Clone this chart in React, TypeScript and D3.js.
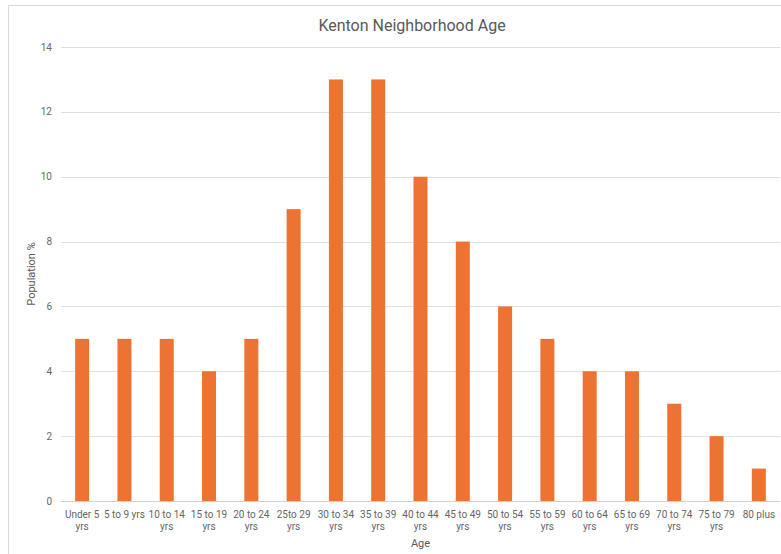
import React from "react";
import * as d3 from "d3";

const categories = [
  "Under 5 yrs", "5 to 9 yrs", "10 to 14 yrs", "15 to 19 yrs", "20 to 24 yrs",
  "25to 29 yrs", "30 to 34 yrs", "35 to 39 yrs", "40 to 44 yrs", "45 to 49 yrs",
  "50 to 54 yrs", "55 to 59 yrs", "60 to 64 yrs", "65 to 69 yrs", "70 to 74 yrs",
  "75 to 79 yrs", "80 plus",
];
const values = [5, 5, 5, 4, 5, 9, 13, 13, 10, 8, 6, 5, 4, 4, 3, 2, 1];
const yTicks = [0, 2, 4, 6, 8, 10, 12, 14];
const title = "Kenton Neighborhood Age";
const xTitle = "Age";
const yTitle = "Population %";

const W = 781;
const H = 554;
const M = { left: 61, right: 1, top: 47, bottom: 53 };
const FONT = "Roboto, 'Noto Sans', sans-serif";

function splitLabel(s: string): string[] {
  if (s.length <= 10) return [s];
  const i = s.lastIndexOf(" ");
  return [s.slice(0, i), s.slice(i + 1)];
}

export default function App() {
  const x = d3
    .scaleBand<string>()
    .domain(categories)
    .range([M.left, W - M.right])
    .paddingInner(0.67)
    .paddingOuter(0.335);
  const y = d3.scaleLinear().domain([0, 14]).range([H - M.bottom, M.top]);
  const x0 = M.left;
  const x1 = W - M.right;
  const bw = 14;

  return (
    <svg
      width={W}
      height={H}
      style={{ position: "absolute", left: 0, top: 0, display: "block", background: "#fff" }}
      fontFamily={FONT}
    >
      <rect x={8.5} y={5.5} width={W} height={H} fill="#fff" stroke="#d9d9d9" strokeWidth={1} />
      <text x={412} y={31} textAnchor="middle" fontSize={16} fill="#595959">
        {title}
      </text>
      {yTicks.map((t) => (
        <g key={t}>
          <line
            x1={x0}
            x2={x1}
            y1={Math.round(y(t)) + 0.5}
            y2={Math.round(y(t)) + 0.5}
            stroke={t === 0 ? "#d0d0d0" : "#e0e0e0"}
            strokeWidth={1}
          />
          <text x={52} y={y(t) + 3.5} textAnchor="end" fontSize={10} fill="#666">
            {t}
          </text>
        </g>
      ))}
      {categories.map((c, i) => {
        const cx = (x(c) as number) + x.bandwidth() / 2;
        return (
          <rect
            key={c}
            x={cx - bw / 2}
            y={y(values[i])}
            width={bw}
            height={y(0) - y(values[i])}
            fill="#ed7332"
          />
        );
      })}
      {categories.map((c) => {
        const cx = (x(c) as number) + x.bandwidth() / 2;
        const lines = splitLabel(c);
        return (
          <text key={c} x={cx} y={518} textAnchor="middle" fontSize={10} fill="#666">
            {lines.map((l, j) => (
              <tspan key={j} x={cx} dy={j === 0 ? 0 : 12}>
                {l}
              </tspan>
            ))}
          </text>
        );
      })}
      <text x={(x0 + x1) / 2} y={547} textAnchor="middle" fontSize={11} fill="#595959">
        {xTitle}
      </text>
      <text
        transform={`translate(35,${(y(0) + y(14)) / 2}) rotate(-90)`}
        textAnchor="middle"
        fontSize={11}
        fill="#595959"
      >
        {yTitle}
      </text>
    </svg>
  );
}
